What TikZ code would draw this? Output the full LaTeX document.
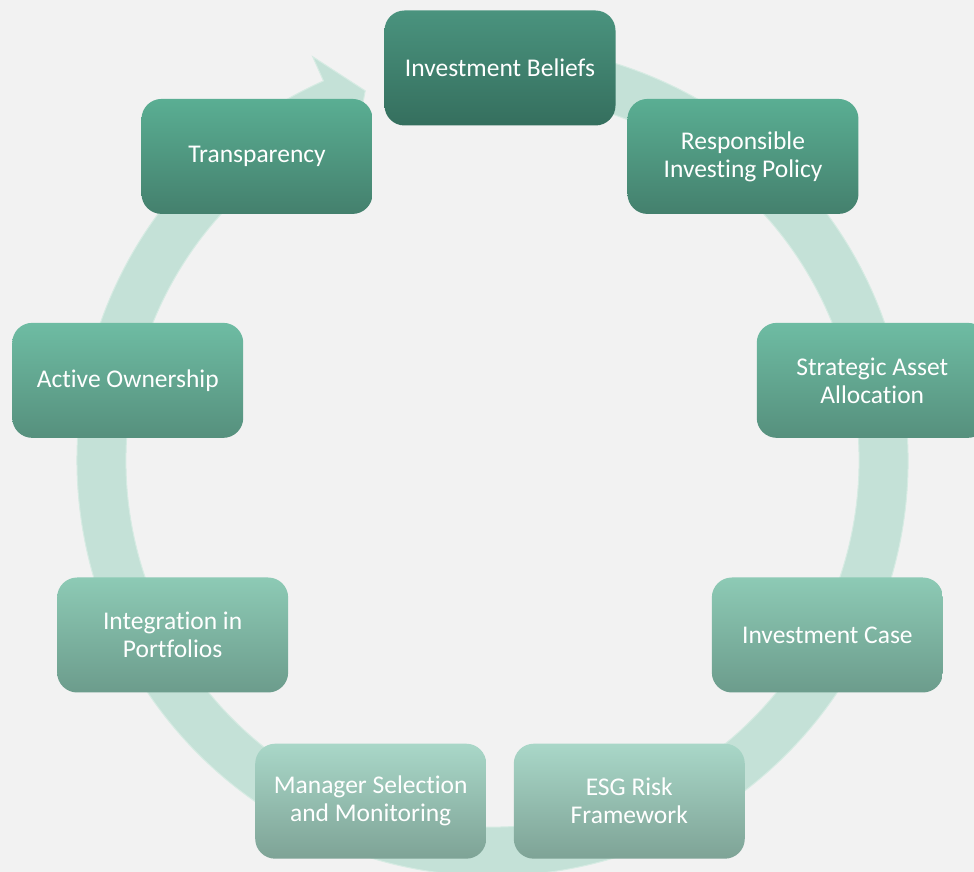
\documentclass[tikz,border=0pt]{standalone}
\usepackage{fontspec}
\setmainfont{Carlito}[Ligatures=NoCommon]
\usetikzlibrary{calc}
\definecolor{bg}{HTML}{F2F2F2}
\definecolor{ringc}{HTML}{C4E1D7}
\definecolor{ringedge}{HTML}{D6EBE3}
\definecolor{aT}{HTML}{4A937E}\definecolor{aB}{HTML}{356F5E}
\definecolor{bT}{HTML}{5AAE93}\definecolor{bB}{HTML}{44806D}
\definecolor{cT}{HTML}{6EBCA3}\definecolor{cB}{HTML}{56907D}
\definecolor{dT}{HTML}{8DCAB5}\definecolor{dB}{HTML}{6C9C8C}
\definecolor{eT}{HTML}{A9D7C8}\definecolor{eB}{HTML}{7EA396}
\tikzset{
  stagebox/.style={rounded corners=20pt, minimum width=231pt, minimum height=115pt,
    inner sep=0pt, align=center, text=white, font=\fontsize{25.5}{28}\selectfont},
  lvA/.style={stagebox, top color=aT, bottom color=aB},
  lvB/.style={stagebox, top color=bT, bottom color=bB},
  lvC/.style={stagebox, top color=cT, bottom color=cB},
  lvD/.style={stagebox, top color=dT, bottom color=dB},
  lvE/.style={stagebox, top color=eT, bottom color=eB},
  cyclering/.style={fill=ringc, draw=ringedge, line width=1pt}
}
\begin{document}
\begin{tikzpicture}
\useasboundingbox (0pt,0pt) rectangle (974pt,872pt);
\clip (0pt,0pt) rectangle (974pt,872pt);
\fill[bg] (0pt,0pt) rectangle (974pt,872pt);
\coordinate (ctr) at (492.5pt,411.5pt);
\coordinate (nc) at (500pt,426pt);
% cycle arrow ring
\path[cyclering] ($(ctr)+(100:415.5pt)$) arc[start angle=100, end angle=-246, radius=415.5pt]
  -- ($(ctr)+(114:442pt)$) -- ($(ctr)+(109:391pt)$) -- ($(ctr)+(114:340pt)$)
  -- ($(ctr)+(114:366.5pt)$) arc[start angle=-246, end angle=100, radius=366.5pt] -- cycle;
% stages
\node[lvA] (beliefs) at ($(nc)+(90:378pt)$) {Investment Beliefs};
\node[lvB] (policy) at ($(nc)+(50:378pt)$) {Responsible\\Investing Policy};
\node[lvC] (saa) at ($(nc)+(10:378pt)$) {Strategic Asset\\Allocation};
\node[lvD] (case) at ($(nc)+(-30:378pt)$) {Investment Case};
\node[lvE] (esg) at ($(nc)+(-70:378pt)$) {ESG Risk\\Framework};
\node[lvE] (manager) at ($(nc)+(-110:378pt)$) {Manager Selection\\and Monitoring};
\node[lvD] (integration) at ($(nc)+(-150:378pt)$) {Integration in\\Portfolios};
\node[lvC] (ownership) at ($(nc)+(170:378pt)$) {Active Ownership};
\node[lvB] (transparency) at ($(nc)+(130:378pt)$) {Transparency};
\end{tikzpicture}
\end{document}
